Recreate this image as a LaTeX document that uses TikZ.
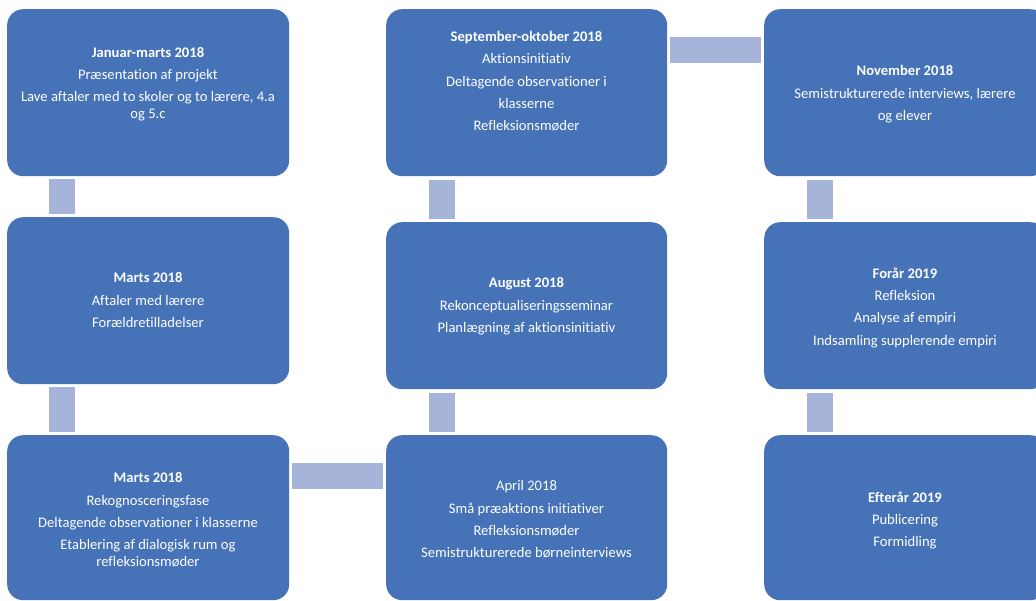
\documentclass[tikz,border=0pt]{standalone}
\usepackage{fontspec}
\setmainfont[Ligatures=NoCommon]{Carlito}
\definecolor{boxblue}{HTML}{4672B8}
\definecolor{connblue}{HTML}{A5B4D8}
\begin{document}
\begin{tikzpicture}[x=1pt,y=-1pt,
  box/.style={draw=none,fill=boxblue,rounded corners=16pt,inner sep=0pt,anchor=north west,minimum height=167pt},
  conn/.style={draw=none,fill=connblue,inner sep=0pt,anchor=north west,minimum width=26pt},
  hconn/.style={draw=none,fill=connblue,inner sep=0pt,anchor=north west,minimum width=91pt,minimum height=26pt},
  txt/.style={text=white,align=center,inner sep=0pt,anchor=north,font=\fontsize{14.6}{16.5}\selectfont}]
\useasboundingbox (0,0) rectangle (1036,601);
\clip (0,0) rectangle (1036,601);
% boxes
\node[box,minimum width=282pt] (b1) at (7,9) {};
\node[box,minimum width=282pt] (b2) at (7,217) {};
\node[box,minimum width=282pt,minimum height=165pt] (b3) at (7,435) {};
\node[box,minimum width=281pt,minimum height=165pt] (b4) at (386,435) {};
\node[box,minimum width=281pt] (b5) at (386,222) {};
\node[box,minimum width=281pt] (b6) at (386,9) {};
\node[box,minimum width=282pt] (b7) at (764,9) {};
\node[box,minimum width=282pt] (b8) at (764,222) {};
\node[box,minimum width=282pt,minimum height=165pt] (b9) at (764,435) {};
% connectors
\node[conn,minimum height=35pt] (c12) at (49,179) {};
\node[conn,minimum height=45pt] (c23) at (49,387) {};
\node[hconn] (c34) at (292,463) {};
\node[conn,minimum height=39pt] (c45) at (429,393) {};
\node[conn,minimum height=39pt] (c56) at (429,180) {};
\node[hconn] (c67) at (670,37) {};
\node[conn,minimum height=39pt] (c78) at (807,180) {};
\node[conn,minimum height=39pt] (c89) at (807,393) {};
% texts
\node[txt] (t1) at (148,47) {\textbf{Januar-marts 2018}\\[5.8pt]Præsentation af projekt\\[5.8pt]Lave aftaler med to skoler og to lærere, 4.a\\og 5.c};
\node[txt] (t2) at (148,272.5) {\textbf{Marts 2018}\\[5.8pt]Aftaler med lærere\\[5.8pt]Forældretilladelser};
\node[txt] (t3) at (148,472.5) {\textbf{Marts 2018}\\[5.8pt]Rekognosceringsfase\\[5.8pt]Deltagende observationer i klasserne\\[5.8pt]Etablering af dialogisk rum og\\refleksionsmøder};
\node[txt] (t4) at (526.5,480.5) {April 2018\\[5.8pt]Små præaktions initiativer\\[5.8pt]Refleksionsmøder\\[5.8pt]Semistrukturerede børneinterviews};
\node[txt] (t5) at (526.5,277.5) {\textbf{August 2018}\\[5.8pt]Rekonceptualiseringsseminar\\[5.8pt]Planlægning af aktionsinitiativ};
\node[txt] (t6) at (526.5,31) {\textbf{September-oktober 2018}\\[5.8pt]Aktionsinitiativ\\[5.8pt]Deltagende observationer i\\[5.8pt]klasserne\\[5.8pt]Refleksionsmøder};
\node[txt] (t7) at (905,65.5) {\textbf{November 2018}\\[5.8pt]Semistrukturerede interviews, lærere\\[5.8pt]og elever};
\node[txt] (t8) at (905,267.5) {\textbf{Forår 2019}\\[5.8pt]Refleksion\\[5.8pt]Analyse af empiri\\[5.8pt]Indsamling supplerende empiri};
\node[txt] (t9) at (905,491.5) {\textbf{Efterår 2019}\\[5.8pt]Publicering\\[5.8pt]Formidling};
\end{tikzpicture}
\end{document}
